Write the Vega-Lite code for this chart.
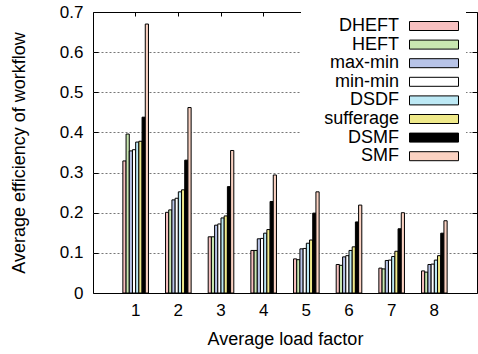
{
  "$schema": "https://vega.github.io/schema/vega-lite/v6.json",
  "width": 384,
  "height": 281,
  "autosize": {"type": "none"},
  "padding": {"left": 93, "top": 12, "right": 1, "bottom": 61},
  "config": {
    "view": {"stroke": "black", "strokeWidth": 1},
    "font": "Liberation Sans",
    "axis": {
      "labelFont": "Liberation Sans",
      "titleFont": "Liberation Sans",
      "labelColor": "black",
      "titleColor": "black",
      "labelFontSize": 17,
      "titleFontSize": 18,
      "titleFontWeight": "normal",
      "domain": false,
      "tickColor": "black",
      "tickWidth": 1
    }
  },
  "data": {
    "values": [
      {"load": 1, "algo": "DHEFT", "eff": 0.329},
      {"load": 1, "algo": "HEFT", "eff": 0.396},
      {"load": 1, "algo": "max-min", "eff": 0.354},
      {"load": 1, "algo": "min-min", "eff": 0.357},
      {"load": 1, "algo": "DSDF", "eff": 0.376},
      {"load": 1, "algo": "sufferage", "eff": 0.378},
      {"load": 1, "algo": "DSMF", "eff": 0.438},
      {"load": 1, "algo": "SMF", "eff": 0.670},
      {"load": 2, "algo": "DHEFT", "eff": 0.201},
      {"load": 2, "algo": "HEFT", "eff": 0.207},
      {"load": 2, "algo": "max-min", "eff": 0.232},
      {"load": 2, "algo": "min-min", "eff": 0.236},
      {"load": 2, "algo": "DSDF", "eff": 0.252},
      {"load": 2, "algo": "sufferage", "eff": 0.257},
      {"load": 2, "algo": "DSMF", "eff": 0.331},
      {"load": 2, "algo": "SMF", "eff": 0.462},
      {"load": 3, "algo": "DHEFT", "eff": 0.140},
      {"load": 3, "algo": "HEFT", "eff": 0.140},
      {"load": 3, "algo": "max-min", "eff": 0.169},
      {"load": 3, "algo": "min-min", "eff": 0.172},
      {"load": 3, "algo": "DSDF", "eff": 0.187},
      {"load": 3, "algo": "sufferage", "eff": 0.192},
      {"load": 3, "algo": "DSMF", "eff": 0.265},
      {"load": 3, "algo": "SMF", "eff": 0.355},
      {"load": 4, "algo": "DHEFT", "eff": 0.106},
      {"load": 4, "algo": "HEFT", "eff": 0.106},
      {"load": 4, "algo": "max-min", "eff": 0.135},
      {"load": 4, "algo": "min-min", "eff": 0.136},
      {"load": 4, "algo": "DSDF", "eff": 0.149},
      {"load": 4, "algo": "sufferage", "eff": 0.158},
      {"load": 4, "algo": "DSMF", "eff": 0.228},
      {"load": 4, "algo": "SMF", "eff": 0.294},
      {"load": 5, "algo": "DHEFT", "eff": 0.085},
      {"load": 5, "algo": "HEFT", "eff": 0.083},
      {"load": 5, "algo": "max-min", "eff": 0.110},
      {"load": 5, "algo": "min-min", "eff": 0.111},
      {"load": 5, "algo": "DSDF", "eff": 0.124},
      {"load": 5, "algo": "sufferage", "eff": 0.132},
      {"load": 5, "algo": "DSMF", "eff": 0.199},
      {"load": 5, "algo": "SMF", "eff": 0.252},
      {"load": 6, "algo": "DHEFT", "eff": 0.071},
      {"load": 6, "algo": "HEFT", "eff": 0.069},
      {"load": 6, "algo": "max-min", "eff": 0.090},
      {"load": 6, "algo": "min-min", "eff": 0.093},
      {"load": 6, "algo": "DSDF", "eff": 0.106},
      {"load": 6, "algo": "sufferage", "eff": 0.115},
      {"load": 6, "algo": "DSMF", "eff": 0.177},
      {"load": 6, "algo": "SMF", "eff": 0.219},
      {"load": 7, "algo": "DHEFT", "eff": 0.062},
      {"load": 7, "algo": "HEFT", "eff": 0.060},
      {"load": 7, "algo": "max-min", "eff": 0.081},
      {"load": 7, "algo": "min-min", "eff": 0.082},
      {"load": 7, "algo": "DSDF", "eff": 0.091},
      {"load": 7, "algo": "sufferage", "eff": 0.104},
      {"load": 7, "algo": "DSMF", "eff": 0.160},
      {"load": 7, "algo": "SMF", "eff": 0.200},
      {"load": 8, "algo": "DHEFT", "eff": 0.055},
      {"load": 8, "algo": "HEFT", "eff": 0.052},
      {"load": 8, "algo": "max-min", "eff": 0.071},
      {"load": 8, "algo": "min-min", "eff": 0.072},
      {"load": 8, "algo": "DSDF", "eff": 0.082},
      {"load": 8, "algo": "sufferage", "eff": 0.093},
      {"load": 8, "algo": "DSMF", "eff": 0.149},
      {"load": 8, "algo": "SMF", "eff": 0.180}
    ]
  },
  "layer": [
    {
      "mark": {"type": "bar", "stroke": "black", "strokeWidth": 1},
      "encoding": {
        "x": {
          "field": "load",
          "type": "ordinal",
          "scale": {"paddingInner": 0.4, "paddingOuter": 0.7},
          "axis": {
            "orient": "bottom",
            "title": "Average load factor",
            "labelAngle": 0,
            "ticks": false,
            "labelPadding": 9,
            "titlePadding": 12
          }
        },
        "xOffset": {
          "field": "algo",
          "type": "nominal",
          "sort": ["DHEFT", "HEFT", "max-min", "min-min", "DSDF", "sufferage", "DSMF", "SMF"],
          "scale": {"paddingInner": 0, "paddingOuter": 0}
        },
        "y": {
          "field": "eff",
          "type": "quantitative",
          "scale": {"domain": [0, 0.7], "nice": false},
          "axis": {
            "orient": "left",
            "title": "Average efficiency of workflow",
            "values": [0, 0.1, 0.2, 0.3, 0.4, 0.5, 0.6, 0.7],
            "format": "~g",
            "ticks": false,
            "labelPadding": 10,
            "titlePadding": 31,
            "grid": true,
            "gridColor": "#777777",
            "gridDash": [2, 2],
            "gridOpacity": {"condition": {"test": "datum.value < 0.05 || datum.value > 0.65", "value": 0}, "value": 1}
          }
        },
        "color": {
          "field": "algo",
          "type": "nominal",
          "scale": {
            "domain": ["DHEFT", "HEFT", "max-min", "min-min", "DSDF", "sufferage", "DSMF", "SMF"],
            "range": ["#f7c0c0", "#c8e6b0", "#b8c4e8", "#ffffff", "#bde9f5", "#efe98a", "#000000", "#fbd2c2"]
          },
          "legend": {
            "title": null,
            "orient": "none",
            "legendX": 208,
            "legendY": 0,
            "padding": 5,
            "fillColor": "white",
            "labelFont": "Liberation Sans",
            "labelFontSize": 18,
            "labelColor": "black",
            "labelAlign": "right",
            "labelBaseline": "middle",
            "symbolType": "M-3.0625,-0.5625L3.0625,-0.5625L3.0625,0.5625L-3.0625,0.5625Z",
            "symbolSize": 256,
            "symbolStrokeColor": "black",
            "symbolStrokeWidth": 1,
            "symbolOpacity": 1,
            "symbolOffset": 119,
            "labelOffset": -44,
            "rowPadding": 0.6
          }
        }
      }
    },
    {
      "mark": {"type": "bar", "opacity": 0},
      "encoding": {
        "x": {
          "field": "load",
          "type": "ordinal",
          "axis": {"orient": "bottom", "labels": false, "title": null, "tickSize": 4, "offset": -281}
        },
        "y": {
          "field": "eff",
          "type": "quantitative",
          "axis": {
            "orient": "right",
            "labels": false,
            "title": null,
            "grid": false,
            "values": [0, 0.1, 0.2, 0.3, 0.4, 0.5, 0.6, 0.7],
            "tickSize": 5,
            "offset": -384
          }
        }
      }
    },
    {
      "mark": {"type": "bar", "opacity": 0},
      "encoding": {
        "x": {"field": "load", "type": "ordinal", "axis": null},
        "y": {
          "field": "eff",
          "type": "quantitative",
          "axis": {
            "orient": "left",
            "labels": false,
            "title": null,
            "grid": false,
            "values": [0, 0.1, 0.2, 0.3, 0.4, 0.5, 0.6, 0.7],
            "tickSize": 5,
            "offset": -384
          }
        }
      }
    }
  ],
  "resolve": {"axis": {"x": "independent", "y": "independent"}}
}
